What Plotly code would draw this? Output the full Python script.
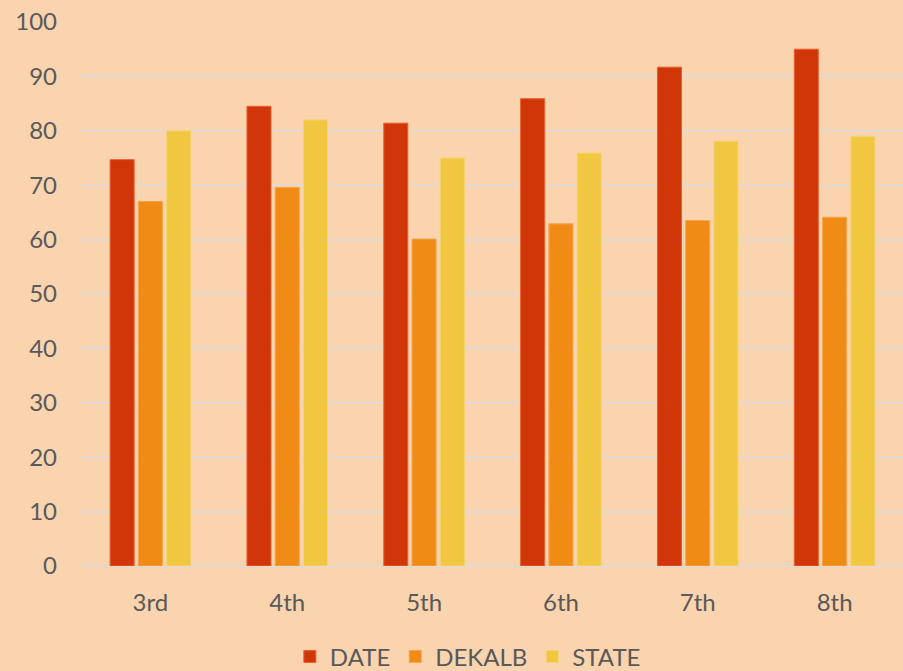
import plotly.graph_objects as go

categories = ["3rd", "4th", "5th", "6th", "7th", "8th"]
date_vals = [74.7, 84.5, 81.4, 85.9, 91.7, 95.0]
dekalb_vals = [67.0, 69.6, 60.1, 62.9, 63.5, 64.1]
state_vals = [80.0, 82.0, 75.0, 75.9, 78.1, 79.0]

series = [
    ("DATE", date_vals, "#D13609", "#E8602F"),
    ("DEKALB", dekalb_vals, "#F08C16", "#F5A54A"),
    ("STATE", state_vals, "#F1C641", "#F6D470"),
]

fig = go.Figure()
for name, vals, color, edge in series:
    fig.add_trace(go.Bar(
        x=categories, y=vals, name=name,
        marker=dict(color=color, line=dict(color=edge, width=1)),
    ))

font_family = "Lato, sans-serif"
fig.update_layout(
    width=903, height=671,
    margin=dict(l=82, r=0, t=22, b=105, autoexpand=False),
    paper_bgcolor="#FAD3AF",
    plot_bgcolor="#FAD3AF",
    barmode="group",
    bargap=0.38,
    bargroupgap=0.15,
    font=dict(family=font_family, size=24, color="#595959"),
    showlegend=True,
    legend=dict(
        orientation="h", x=0.47, xanchor="center", y=-0.167, yanchor="middle",
        font=dict(size=24, color="#595959"), itemwidth=30, traceorder="normal",
        bgcolor="rgba(0,0,0,0)",
    ),
    xaxis=dict(
        showgrid=False, showline=False, ticks="", ticklabelstandoff=20,
        tickfont=dict(size=24, color="#595959"),
    ),
    yaxis=dict(
        range=[0, 100], dtick=10, showgrid=True, gridcolor="#E2DAD2", gridwidth=1.5,
        zeroline=True, zerolinecolor="#E2DAD2", zerolinewidth=1.5,
        showline=False, ticks="", ticklabelstandoff=24,
        tickfont=dict(size=24, color="#595959"),
    ),
)

fig.write_html(
    "out.html",
    config={"displayModeBar": False},
    post_script="document.body.style.margin='0';document.body.style.background='#FAD3AF';",
)
